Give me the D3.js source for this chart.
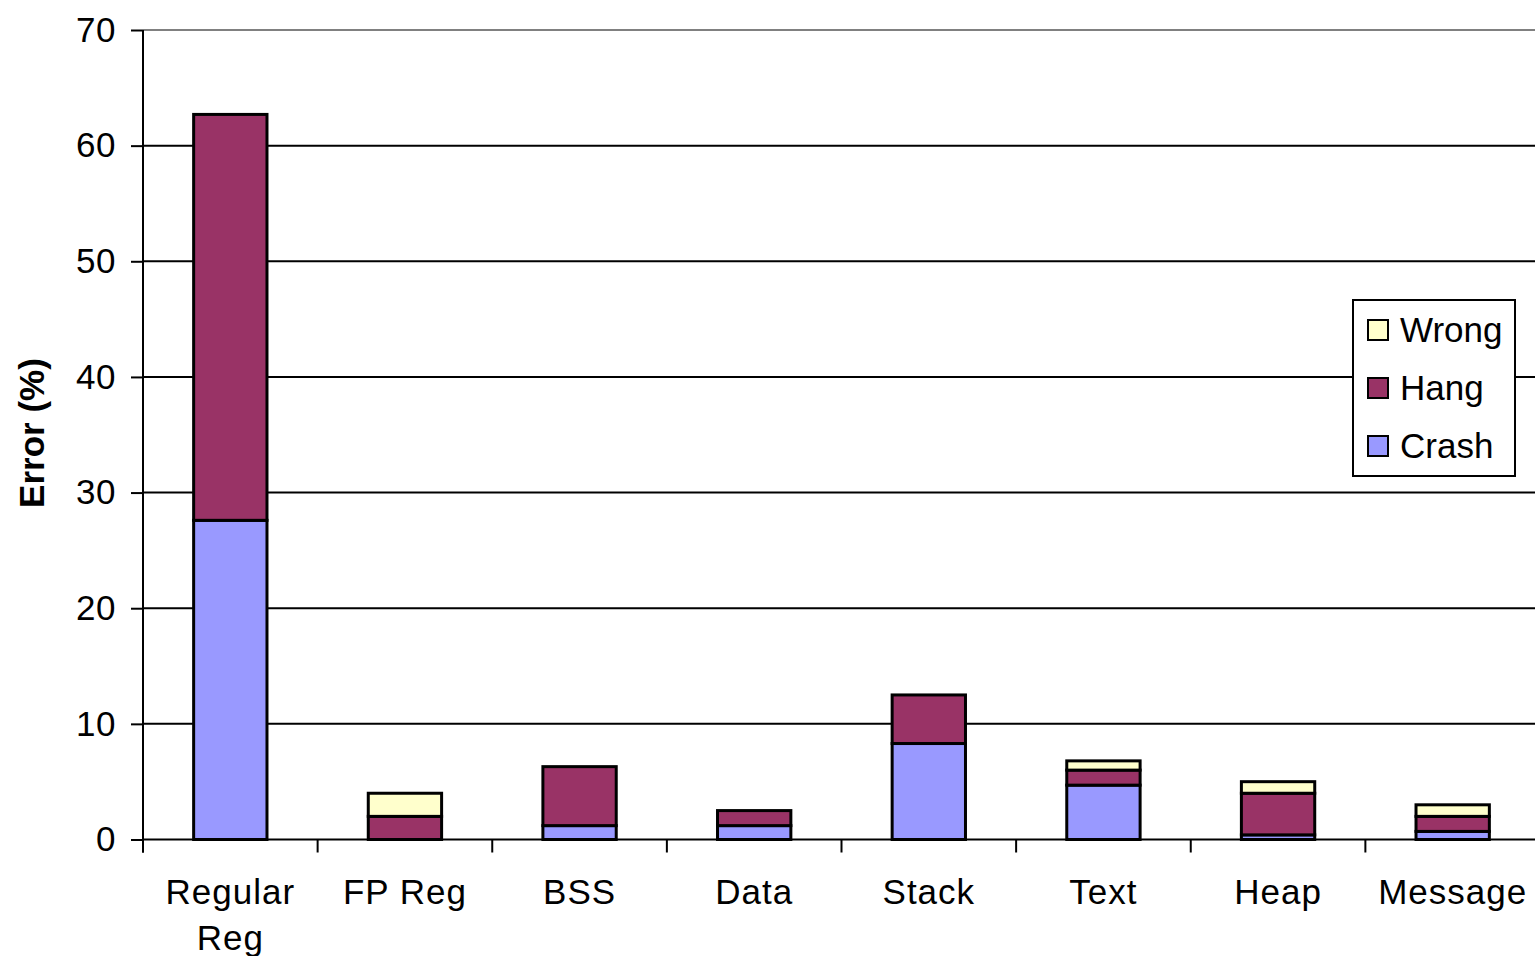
<!DOCTYPE html>
<html>
<head>
<meta charset="utf-8">
<script src="https://cdn.jsdelivr.net/npm/d3@7"></script>
<style>
  html, body { margin: 0; padding: 0; background: #fff; }
  svg { display: block; }
  text { font-family: "Liberation Sans", Arial, sans-serif; fill: #000; }
</style>
</head>
<body>
<svg id="chart" width="1535" height="956"></svg>
<script>
// Error breakdown by injection target
const categories = ["Regular Reg", "FP Reg", "BSS", "Data", "Stack", "Text", "Heap", "Message"];
const crash = [27.6, 0.0, 1.2, 1.2, 8.3, 4.7, 0.4, 0.7];
const hang  = [35.1, 2.0, 5.1, 1.3, 4.2, 1.3, 3.6, 1.3];
const wrong = [0.0, 2.0, 0.0, 0.0, 0.0, 0.8, 1.0, 1.0];
const seriesNames = ["Crash", "Hang", "Wrong"];
const seriesColors = ["#9999FF", "#993366", "#FFFFCC"];
const yTicks = [0, 10, 20, 30, 40, 50, 60, 70];

const rows = categories.map((c, i) => ({ cat: c, Crash: crash[i], Hang: hang[i], Wrong: wrong[i] }));
const stacked = d3.stack().keys(seriesNames)(rows);

const svg = d3.select("#chart");
const plotLeft = 143, plotRight = 1540, plotTop = 30, plotBottom = 839.5;

const x = d3.scaleBand().domain(categories).range([plotLeft, plotRight]).paddingInner(0.58).paddingOuter(0.29);
const y = d3.scaleLinear().domain([0, 70]).range([plotBottom, plotTop]);
const color = d3.scaleOrdinal().domain(seriesNames).range(seriesColors);

// Horizontal gridlines
svg.append("g").selectAll("line").data(yTicks.filter(t => t > 0)).join("line")
  .attr("x1", plotLeft).attr("x2", 1535)
  .attr("y1", d => y(d)).attr("y2", d => y(d))
  .attr("stroke", d => d === 70 ? "#808080" : "#000")
  .attr("stroke-width", 2);

// Y axis
const yAxis = svg.append("g").attr("transform", `translate(${plotLeft},0)`)
  .call(d3.axisLeft(y).tickValues(yTicks).tickSize(12).tickPadding(15).tickFormat(d3.format("d")));
yAxis.select(".domain").remove();
yAxis.selectAll(".tick line").attr("stroke", "#000").attr("stroke-width", 2);
yAxis.selectAll(".tick text").attr("font-size", 35).attr("letter-spacing", 0.5)
  .style("font-family", "'Liberation Sans', Arial, sans-serif").attr("fill", "#000");
svg.append("line").attr("x1", plotLeft).attr("x2", plotLeft).attr("y1", plotTop).attr("y2", plotBottom + 13)
  .attr("stroke", "#000").attr("stroke-width", 2);

// Stacked bars
svg.append("g").selectAll("g").data(stacked).join("g")
  .attr("fill", d => color(d.key))
  .selectAll("rect").data(d => d.filter(s => s[1] - s[0] > 0)).join("rect")
  .attr("x", d => x(d.data.cat))
  .attr("width", x.bandwidth())
  .attr("y", d => y(d[1]))
  .attr("height", d => y(d[0]) - y(d[1]))
  .attr("stroke", "#000").attr("stroke-width", 3);

// X axis baseline and category ticks
svg.append("line").attr("x1", plotLeft).attr("x2", 1535).attr("y1", plotBottom).attr("y2", plotBottom)
  .attr("stroke", "#000").attr("stroke-width", 2);
const step = x.step();
svg.append("g").selectAll("line").data(d3.range(categories.length + 1)).join("line")
  .attr("x1", i => plotLeft + i * step).attr("x2", i => plotLeft + i * step)
  .attr("y1", plotBottom).attr("y2", plotBottom + 13)
  .attr("stroke", "#000").attr("stroke-width", 2);

// Category labels (wrapped onto two lines where needed)
const labelG = svg.append("g");
categories.forEach(c => {
  const cx = x(c) + x.bandwidth() / 2;
  const words = c === "Regular Reg" ? ["Regular", "Reg"] : [c];
  const t = labelG.append("text").attr("text-anchor", "middle").attr("font-size", 35).attr("letter-spacing", 1);
  words.forEach((w, k) => {
    t.append("tspan").attr("x", cx).attr("y", 904 + k * 46).text(w);
  });
});

// Y axis title
svg.append("text")
  .attr("transform", `translate(44,433) rotate(-90)`)
  .attr("text-anchor", "middle")
  .attr("font-size", 35).attr("font-weight", "bold")
  .text("Error (%)");

// Legend
const lg = svg.append("g").attr("transform", "translate(1353,300)");
lg.append("rect").attr("width", 162).attr("height", 176).attr("fill", "#fff")
  .attr("stroke", "#000").attr("stroke-width", 2);
const legendOrder = ["Wrong", "Hang", "Crash"];
legendOrder.forEach((k, i) => {
  const cy = 30 + i * 58;
  lg.append("rect").attr("x", 15).attr("y", cy - 10).attr("width", 20).attr("height", 20)
    .attr("fill", color(k)).attr("stroke", "#000").attr("stroke-width", 2);
  lg.append("text").attr("x", 47).attr("y", cy + 12).attr("font-size", 35).text(k);
});
</script>
</body>
</html>
